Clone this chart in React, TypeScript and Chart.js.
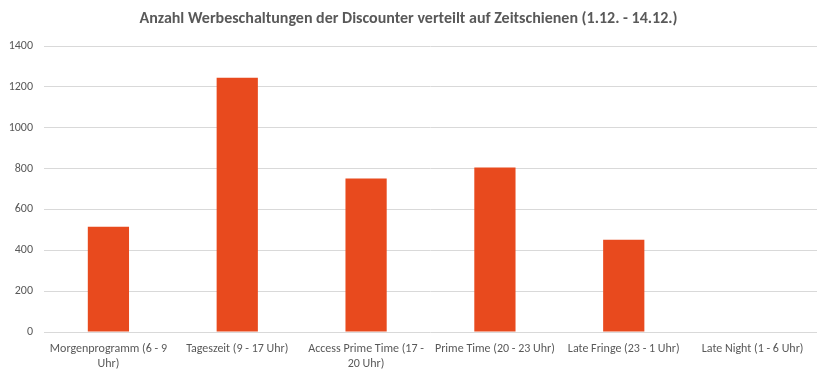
import React, { useEffect, useRef } from "react";
import { Chart, registerables } from "chart.js";

Chart.register(...registerables);

const titleText = "Anzahl Werbeschaltungen der Discounter verteilt auf Zeitschienen (1.12. - 14.12.)";
const categories: string[][] = [
  ["Morgenprogramm (6 - 9", "Uhr)"],
  ["Tageszeit (9 - 17 Uhr)"],
  ["Access Prime Time (17 -", "20 Uhr)"],
  ["Prime Time (20 - 23 Uhr)"],
  ["Late Fringe (23 - 1 Uhr)"],
  ["Late Night (1 - 6 Uhr)"],
];
const values: number[] = [515, 1245, 752, 805, 452, 0];
const yMin = 0;
const yMax = 1400;
const yStep = 200;

const FONT = "Carlito, Calibri, 'Liberation Sans Narrow', 'Liberation Sans', sans-serif";
const TEXT = "#595959";

export default function App() {
  const ref = useRef<HTMLCanvasElement | null>(null);
  useEffect(() => {
    document.body.style.margin = "0";
    const ctx = ref.current!;
    const chart = new Chart(ctx, {
      type: "bar",
      data: {
        labels: categories,
        datasets: [
          {
            data: values,
            backgroundColor: "#E84A1E",
            barPercentage: 0.32,
            categoryPercentage: 1,
          },
        ],
      },
      options: {
        animation: false,
        responsive: false,
        maintainAspectRatio: false,
        layout: { padding: { left: 0, right: 15, top: 0, bottom: 0 } },
        plugins: {
          legend: { display: false },
          tooltip: { enabled: false },
          title: {
            display: true,
            text: titleText,
            color: TEXT,
            font: { family: FONT, size: 16, weight: "bold" },
            padding: { top: 9.4, bottom: 17.4 },
          },
        },
        scales: {
          x: {
            grid: { display: false, drawTicks: false },
            border: { display: false },
            ticks: {
              color: TEXT,
              font: { family: FONT, size: 12 },
              padding: 10,
              maxRotation: 0,
              autoSkip: false,
            },
            afterFit: (s: any) => {
              s.height = 47;
            },
          },
          y: {
            min: yMin,
            max: yMax,
            grid: { color: "#D9D9D9", drawTicks: false, lineWidth: 1 },
            border: { display: false },
            ticks: {
              stepSize: yStep,
              color: TEXT,
              font: { family: FONT, size: 12 },
              padding: 11,
              callback: (v: any) => String(v),
            },
            afterFit: (s: any) => {
              s.width = 44;
            },
          },
        },
      },
    });
    return () => chart.destroy();
  }, []);
  return (
    <div style={{ width: 832, height: 379, background: "#fff" }}>
      <canvas ref={ref} width={832} height={379} />
    </div>
  );
}
